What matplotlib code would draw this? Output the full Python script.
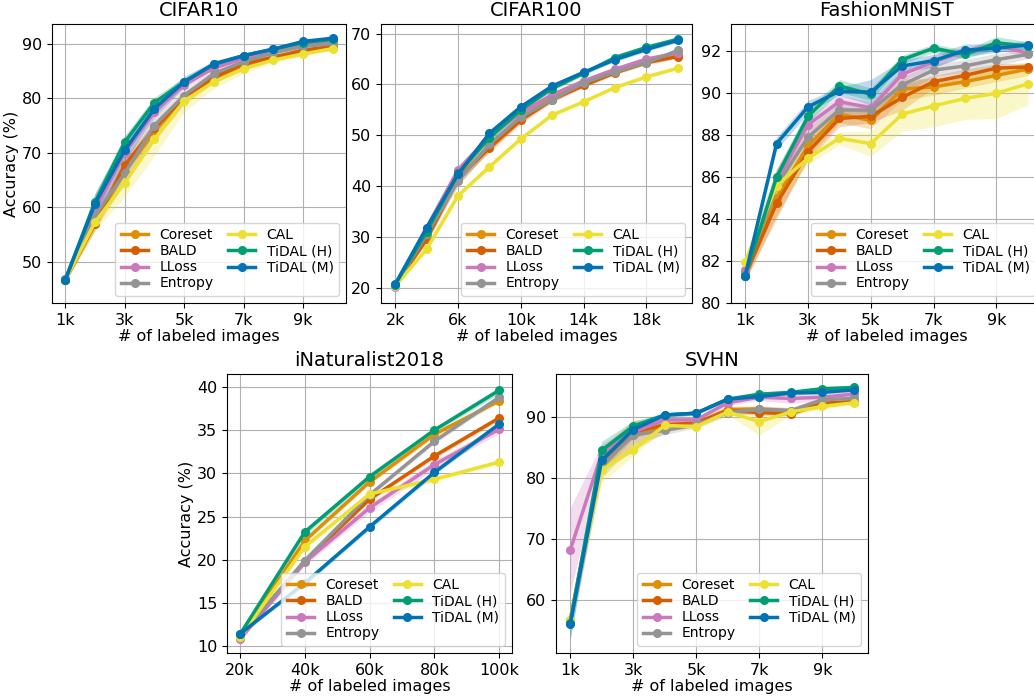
import matplotlib
matplotlib.use("Agg")
import matplotlib.pyplot as plt
import numpy as np

matplotlib.rcParams["font.size"] = 11.5

methods = ["Coreset", "BALD", "LLoss", "Entropy", "CAL", "TiDAL (H)", "TiDAL (M)"]
colors = ["#DE8F05", "#D55E00", "#CC78BC", "#949494", "#ECE133", "#029E73", "#0173B2"]

# nombre d'images annotées (en milliers)
x_small = [1, 2, 3, 4, 5, 6, 7, 8, 9, 10]
x_c100 = [2, 4, 6, 8, 10, 12, 14, 16, 18, 20]
x_inat = [20, 40, 60, 80, 100]

# CIFAR10
cifar10_mean = {
    "Coreset": [46.8, 57.5, 66.5, 74.0, 80.0, 83.7, 86.0, 87.5, 88.5, 89.2],
    "BALD": [46.8, 57.0, 67.8, 74.5, 80.2, 83.8, 86.3, 87.5, 88.8, 89.5],
    "LLoss": [46.9, 59.5, 70.0, 77.5, 82.5, 85.5, 87.3, 88.7, 89.8, 90.5],
    "Entropy": [46.9, 58.5, 66.3, 75.0, 80.5, 84.5, 86.7, 88.3, 89.5, 90.0],
    "CAL": [46.8, 57.3, 64.5, 72.5, 79.5, 83.0, 85.4, 87.0, 88.1, 89.1],
    "TiDAL (H)": [46.8, 61.0, 72.0, 79.2, 83.0, 86.2, 87.8, 89.0, 90.2, 90.8],
    "TiDAL (M)": [46.8, 60.7, 70.5, 78.1, 83.0, 86.3, 87.8, 89.0, 90.4, 91.0],
}
cifar10_std = {
    "Coreset": [0.5, 1.5, 2.0, 1.8, 1.2, 0.8, 0.6, 0.5, 0.4, 0.4],
    "BALD": [0.5, 1.2, 1.5, 1.2, 0.8, 0.6, 0.5, 0.4, 0.4, 0.3],
    "LLoss": [0.8, 1.5, 1.5, 1.2, 0.8, 0.6, 0.5, 0.4, 0.4, 0.3],
    "Entropy": [0.5, 1.2, 1.5, 1.5, 1.0, 0.6, 0.5, 0.4, 0.4, 0.3],
    "CAL": [0.5, 1.5, 2.5, 3.0, 2.0, 1.2, 0.8, 0.5, 0.4, 0.4],
    "TiDAL (H)": [0.5, 1.5, 1.2, 1.0, 0.8, 0.5, 0.4, 0.3, 0.3, 0.3],
    "TiDAL (M)": [0.5, 2.0, 2.0, 1.5, 1.0, 0.6, 0.4, 0.3, 0.3, 0.3],
}

# CIFAR100
cifar100_mean = {
    "Coreset": [20.5, 30.0, 41.5, 48.0, 53.5, 57.5, 60.5, 62.8, 64.5, 66.0],
    "BALD": [20.5, 29.5, 41.5, 47.5, 53.0, 57.0, 59.8, 62.3, 64.3, 65.5],
    "LLoss": [20.1, 31.8, 43.2, 49.8, 54.4, 58.0, 60.7, 63.0, 65.0, 66.2],
    "Entropy": [20.5, 30.5, 41.0, 48.2, 53.6, 57.0, 60.3, 62.5, 64.3, 66.7],
    "CAL": [20.3, 27.6, 38.1, 43.8, 49.3, 54.0, 56.6, 59.4, 61.5, 63.2],
    "TiDAL (H)": [20.6, 31.0, 42.5, 49.5, 55.0, 59.2, 62.2, 65.3, 67.3, 68.9],
    "TiDAL (M)": [20.7, 31.8, 42.3, 50.4, 55.6, 59.7, 62.4, 64.9, 66.9, 68.7],
}
cifar100_std = {
    "Coreset": [0.3, 1.0, 1.3, 1.2, 1.0, 0.7, 0.6, 0.5, 0.4, 0.4],
    "BALD": [0.3, 0.7, 0.8, 0.8, 0.7, 0.5, 0.4, 0.4, 0.4, 0.4],
    "LLoss": [0.3, 0.7, 0.8, 0.7, 0.6, 0.5, 0.4, 0.4, 0.4, 0.4],
    "Entropy": [0.3, 0.8, 1.0, 0.9, 0.7, 0.5, 0.4, 0.4, 0.4, 0.4],
    "CAL": [0.3, 0.5, 0.5, 0.4, 0.4, 0.4, 0.3, 0.3, 0.3, 0.3],
    "TiDAL (H)": [0.3, 0.6, 0.6, 0.6, 0.5, 0.5, 0.4, 0.6, 0.5, 0.5],
    "TiDAL (M)": [0.3, 0.6, 0.6, 0.5, 0.5, 0.4, 0.4, 0.4, 0.4, 0.4],
}

# FashionMNIST
fmnist_mean = {
    "Coreset": [81.5, 85.0, 87.5, 89.0, 88.7, 90.2, 90.3, 90.55, 90.85, 91.15],
    "BALD": [81.3, 84.75, 87.2, 88.8, 88.9, 89.8, 90.55, 90.85, 91.2, 91.25],
    "LLoss": [81.55, 85.8, 88.5, 89.6, 89.3, 90.9, 91.5, 92.0, 92.3, 91.9],
    "Entropy": [81.4, 85.6, 87.9, 89.2, 89.2, 90.4, 91.1, 91.3, 91.6, 91.85],
    "CAL": [81.95, 85.6, 86.9, 87.85, 87.6, 89.0, 89.4, 89.75, 90.0, 90.45],
    "TiDAL (H)": [81.3, 86.0, 88.9, 90.35, 89.95, 91.6, 92.15, 91.85, 92.4, 92.25],
    "TiDAL (M)": [81.3, 87.6, 89.35, 90.1, 90.05, 91.3, 91.55, 92.05, 92.15, 92.3],
}
fmnist_std = {
    "Coreset": [0.4, 1.0, 0.6, 0.4, 0.4, 0.5, 0.4, 0.3, 0.3, 0.3],
    "BALD": [0.3, 0.6, 0.4, 0.4, 0.3, 0.6, 0.3, 0.3, 0.2, 0.2],
    "LLoss": [0.6, 0.6, 0.4, 0.3, 0.3, 0.3, 0.3, 0.2, 0.2, 0.2],
    "Entropy": [0.3, 0.6, 0.5, 0.4, 0.3, 0.4, 0.3, 0.3, 0.3, 0.2],
    "CAL": [0.3, 0.8, 0.3, 0.3, 0.6, 0.8, 1.0, 1.0, 1.2, 1.0],
    "TiDAL (H)": [0.3, 0.4, 0.3, 0.3, 0.3, 0.2, 0.2, 0.2, 0.3, 0.2],
    "TiDAL (M)": [0.3, 0.3, 0.3, 0.2, 0.6, 0.3, 0.3, 0.3, 0.2, 0.2],
}

# iNaturalist2018
inat_mean = {
    "Coreset": [11.0, 22.2, 29.0, 34.5, 38.4],
    "BALD": [11.1, 19.8, 27.0, 32.0, 36.4],
    "LLoss": [10.8, 19.7, 26.0, 31.0, 35.1],
    "Entropy": [11.2, 19.9, 27.5, 33.7, 38.8],
    "CAL": [11.0, 21.5, 27.6, 29.3, 31.3],
    "TiDAL (H)": [11.35, 23.2, 29.6, 35.0, 39.6],
    "TiDAL (M)": [11.4, 17.3, 23.8, 30.1, 35.7],
}
inat_std = {
    "Coreset": [0.2, 0.3, 0.3, 0.3, 0.3],
    "BALD": [0.2, 0.3, 0.3, 0.3, 0.3],
    "LLoss": [0.2, 0.4, 0.5, 0.5, 0.5],
    "Entropy": [0.2, 0.3, 0.3, 0.3, 0.3],
    "CAL": [0.2, 0.3, 0.3, 0.3, 0.3],
    "TiDAL (H)": [0.2, 0.4, 0.4, 0.3, 0.4],
    "TiDAL (M)": [0.2, 0.3, 0.3, 0.3, 0.3],
}

# SVHN
svhn_mean = {
    "Coreset": [56.8, 83.0, 87.0, 88.5, 89.0, 91.2, 91.3, 91.0, 92.0, 92.5],
    "BALD": [56.5, 82.5, 87.5, 88.7, 89.0, 91.0, 90.7, 90.5, 92.2, 92.5],
    "LLoss": [68.2, 84.0, 87.5, 89.5, 89.5, 92.3, 93.2, 93.0, 93.2, 93.7],
    "Entropy": [56.5, 82.0, 87.0, 87.8, 88.7, 90.7, 91.2, 91.0, 92.8, 93.0],
    "CAL": [56.8, 81.3, 84.6, 88.6, 88.4, 90.8, 89.2, 90.8, 91.7, 92.3],
    "TiDAL (H)": [56.3, 84.5, 88.5, 90.3, 90.6, 92.9, 93.7, 94.0, 94.6, 94.8],
    "TiDAL (M)": [56.1, 82.9, 87.9, 90.3, 90.6, 92.9, 93.3, 93.9, 94.0, 94.4],
}
svhn_std = {
    "Coreset": [1.0, 2.0, 2.5, 1.0, 0.5, 0.5, 0.5, 0.5, 0.5, 0.3],
    "BALD": [1.0, 1.5, 1.0, 0.5, 0.4, 0.4, 0.4, 0.4, 0.3, 0.3],
    "LLoss": [7.0, 1.5, 1.0, 0.5, 0.5, 0.5, 0.5, 0.8, 0.5, 0.5],
    "Entropy": [1.0, 2.0, 1.5, 0.7, 0.5, 0.5, 0.5, 0.5, 0.5, 0.3],
    "CAL": [1.5, 2.0, 1.0, 0.5, 0.3, 0.5, 2.2, 0.5, 0.5, 0.3],
    "TiDAL (H)": [2.5, 1.5, 0.8, 0.4, 0.3, 0.3, 0.3, 0.3, 0.3, 0.3],
    "TiDAL (M)": [2.5, 1.5, 0.8, 0.4, 0.3, 0.3, 0.3, 0.3, 0.3, 0.3],
}

W, H = 1034, 696


# position des axes en pixels -> fractions de la figure
def pix_axes(fig, left, top, right, bottom):
    return fig.add_axes([left / W, 1 - bottom / H, (right - left) / W, (bottom - top) / H])


def draw_panel(ax, x, mean, std, title, xticks, xlim, ylim, ylabel=False):
    for m, c in zip(methods, colors):
        mu = np.array(mean[m])
        sd = np.array(std[m])
        ax.fill_between(x, mu - sd, mu + sd, color=c, alpha=0.25, linewidth=0)
        ax.plot(x, mu, color=c, linewidth=2.5, marker="o", markersize=5.5, label=m)
    ax.set_title(title, fontsize=14)
    ax.set_xticks(xticks)
    ax.set_xticklabels([str(t) + "k" for t in xticks])
    ax.set_xlim(xlim)
    ax.set_ylim(ylim)
    ax.set_xlabel("# of labeled images", labelpad=1)
    if ylabel:
        ax.set_ylabel("Accuracy (%)", labelpad=2)
    ax.grid(True, color="#b0b0b0", linewidth=0.8)
    ax.set_axisbelow(True)
    ax.legend(loc="lower right", ncol=2, fontsize=10, handlelength=2.0,
              columnspacing=1.0, labelspacing=0.15, borderpad=0.4)


fig = plt.figure(figsize=(W / 100, H / 100), dpi=100)

ax1 = pix_axes(fig, 52, 24, 346, 303)
draw_panel(ax1, x_small, cifar10_mean, cifar10_std, "CIFAR10", [1, 3, 5, 7, 9],
           (0.55, 10.45), (42.5, 93.6), ylabel=True)

ax2 = pix_axes(fig, 381, 24, 692, 303)
draw_panel(ax2, x_c100, cifar100_mean, cifar100_std, "CIFAR100", [2, 6, 10, 14, 18],
           (1.1, 20.9), (17.0, 71.9))

ax3 = pix_axes(fig, 731, 24, 1042, 303)
draw_panel(ax3, x_small, fmnist_mean, fmnist_std, "FashionMNIST", [1, 3, 5, 7, 9],
           (0.55, 10.45), (80, 93.3))

ax4 = pix_axes(fig, 227, 374, 512, 653)
draw_panel(ax4, x_inat, inat_mean, inat_std, "iNaturalist2018", [20, 40, 60, 80, 100],
           (16, 104), (9.2, 41.5), ylabel=True)

ax5 = pix_axes(fig, 556, 374, 868, 653)
draw_panel(ax5, x_small, svhn_mean, svhn_std, "SVHN", [1, 3, 5, 7, 9],
           (0.55, 10.45), (51.4, 97.0))

fig.savefig("out.png", dpi=100)
